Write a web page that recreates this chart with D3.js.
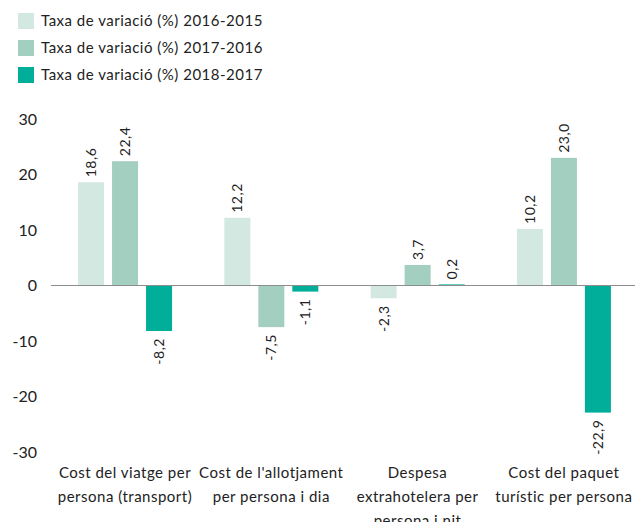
<!DOCTYPE html>
<html><head><meta charset="utf-8">
<script src="https://cdn.jsdelivr.net/npm/d3@7"></script>
<style>body{margin:0;background:#fff}</style>
</head><body>
<svg id="c" width="635" height="522"></svg>
<script>
const categories = [
  ["Cost del viatge per", "persona (transport)"],
  ["Cost de l'allotjament", "per persona i dia"],
  ["Despesa", "extrahotelera per", "persona i nit"],
  ["Cost del paquet", "turístic per persona"]
];
const seriesNames = ["Taxa de variació (%) 2016-2015", "Taxa de variació (%) 2017-2016", "Taxa de variació (%) 2018-2017"];
const s2016 = [18.6, 12.2, -2.3, 10.2];
const s2017 = [22.4, -7.5, 3.7, 23.0];
const s2018 = [-8.2, -1.1, 0.2, -22.9];
const yTicks = [30, 20, 10, 0, -10, -20, -30];
const colors = ["#d4e8e2", "#a3cfc0", "#00ae9a"];
const series = [s2016, s2017, s2018];

const svg = d3.select("#c");
const font = "Lato, 'Open Sans', sans-serif";

const x = d3.scaleBand().domain(d3.range(categories.length)).range([51.85, 637]).paddingInner(0).paddingOuter(0);
const xs = d3.scaleBand().domain([0,1,2]).range([26.2, 120.2]).paddingInner(0.235).paddingOuter(0);
const y = d3.scaleLinear().domain([-30, 30]).range([452, 119]);

// y tick labels
svg.append("g").selectAll("text").data(yTicks).join("text")
  .attr("x", 37).attr("y", d => y(d)).attr("dy", "0.35em")
  .attr("text-anchor", "end").attr("font-family", font).attr("font-size", 16).attr("fill", "#222")
  .text(d => d);

// bars
series.forEach((s, si) => {
  const g = svg.append("g");
  g.selectAll("rect").data(s).join("rect")
    .attr("x", (d, i) => x(i) + xs(si))
    .attr("width", xs.bandwidth())
    .attr("y", d => y(Math.max(0, d)))
    .attr("height", d => Math.abs(y(d) - y(0)))
    .attr("fill", colors[si]);
  g.selectAll("text").data(s).join("text")
    .attr("transform", (d, i) => {
      const cx = x(i) + xs(si) + xs.bandwidth() / 2;
      const yy = d >= 0 ? y(d) - 5 : y(d) + 7;
      return `translate(${cx + 5},${yy}) rotate(-90)`;
    })
    .attr("text-anchor", d => d >= 0 ? "start" : "end")
    .attr("font-family", font).attr("font-size", 14).attr("letter-spacing", 0.5).attr("fill", "#222")
    .text(d => d.toFixed(1).replace(".", ","));
});

// zero line
svg.append("line").attr("x1", 51).attr("x2", 635).attr("y1", y(0)).attr("y2", y(0))
  .attr("stroke", "#8c8c8c").attr("stroke-width", 1);

// category labels
const cg = svg.append("g");
categories.forEach((lines, i) => {
  const t = cg.append("text").attr("x", x(i) + x.bandwidth() / 2).attr("y", 478)
    .attr("text-anchor", "middle").attr("font-family", font).attr("font-size", 15)
    .attr("letter-spacing", 0.5).attr("fill", "#222");
  lines.forEach((l, j) => t.append("tspan").attr("x", x(i) + x.bandwidth() / 2).attr("dy", j === 0 ? 0 : 24).text(l));
});

// legend
const lg = svg.append("g");
seriesNames.forEach((n, i) => {
  lg.append("rect").attr("x", 18).attr("y", 13 + i * 27).attr("width", 16).attr("height", 16).attr("fill", colors[i]);
  lg.append("text").attr("x", 41).attr("y", 21 + i * 27).attr("dy", "0.35em")
    .attr("font-family", font).attr("font-size", 15).attr("letter-spacing", 0.5).attr("fill", "#222").text(n);
});
</script>
</body></html>
